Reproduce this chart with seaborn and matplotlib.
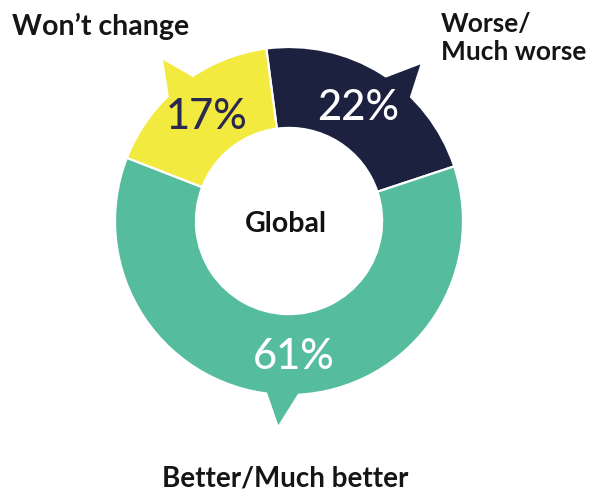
import numpy as np
import matplotlib
matplotlib.use("Agg")
import matplotlib.pyplot as plt
from matplotlib.patches import Polygon
import seaborn as sns

# data
categories = ["Worse/\nMuch worse", "Better/Much better", "Won\u2019t change"]
shares = [22, 61, 17]
colors = ["#1c2140", "#55bd9d", "#f3ea3f"]
pct_colors = ["white", "white", "#2b2850"]

sns.set_theme(style="white")
plt.rcParams['font.family'] = ['Lato', 'DejaVu Sans']

fig = plt.figure(figsize=(5.93, 4.92), dpi=100)
ax = fig.add_axes([0, 0, 1, 1])

wedges, _ = ax.pie(shares, colors=colors, startangle=97.5, counterclock=False,
                   radius=1.0,
                   wedgeprops=dict(width=0.465, edgecolor="white", linewidth=1.6))

# little speech-bubble pointers on the outer rim (angles in degrees)
pointer_angles = [51, 268, 129]
pct_angles = [59, 272, 128]
for w, a, c in zip(wedges, pointer_angles, colors):
    t = np.deg2rad(a)
    half = np.deg2rad(6)
    pts = [(0.97 * np.cos(t - half), 0.97 * np.sin(t - half)),
           (1.175 * np.cos(t - np.deg2rad(1)), 1.175 * np.sin(t - np.deg2rad(1))),
           (0.97 * np.cos(t + half), 0.97 * np.sin(t + half))]
    ax.add_patch(Polygon(pts, closed=True, facecolor=c, edgecolor="none", zorder=w.get_zorder() + 1))

for v, a, tc in zip(shares, pct_angles, pct_colors):
    t = np.deg2rad(a)
    ax.text(0.77 * np.cos(t), 0.77 * np.sin(t) - 0.01, f"{v}%", ha="center", va="center",
            fontsize=30, fontweight="medium", color=tc, zorder=5)

ax.text(-0.02, -0.02, "Global", ha="center", va="center", fontsize=20.5,
        fontweight="bold", color="#111111", zorder=5)

lab_kw = dict(fontweight="bold", color="#151515")
ax.text(0.875, 0.925, categories[0], ha="left", va="baseline", linespacing=1.2,
        fontsize=19, **lab_kw)
ax.text(-0.02, -1.525, categories[1], ha="center", va="baseline", fontsize=20, **lab_kw)
ax.text(-1.59, 1.07, categories[2], ha="left", va="baseline", fontsize=20.5, **lab_kw)

ax.set_xlim(-289 / 174, (593 - 289) / 174)
ax.set_ylim(-(492 - 221) / 174, 221 / 174)
ax.set_aspect("equal")
ax.axis("off")

fig.savefig("out.png", dpi=100, facecolor="white")
